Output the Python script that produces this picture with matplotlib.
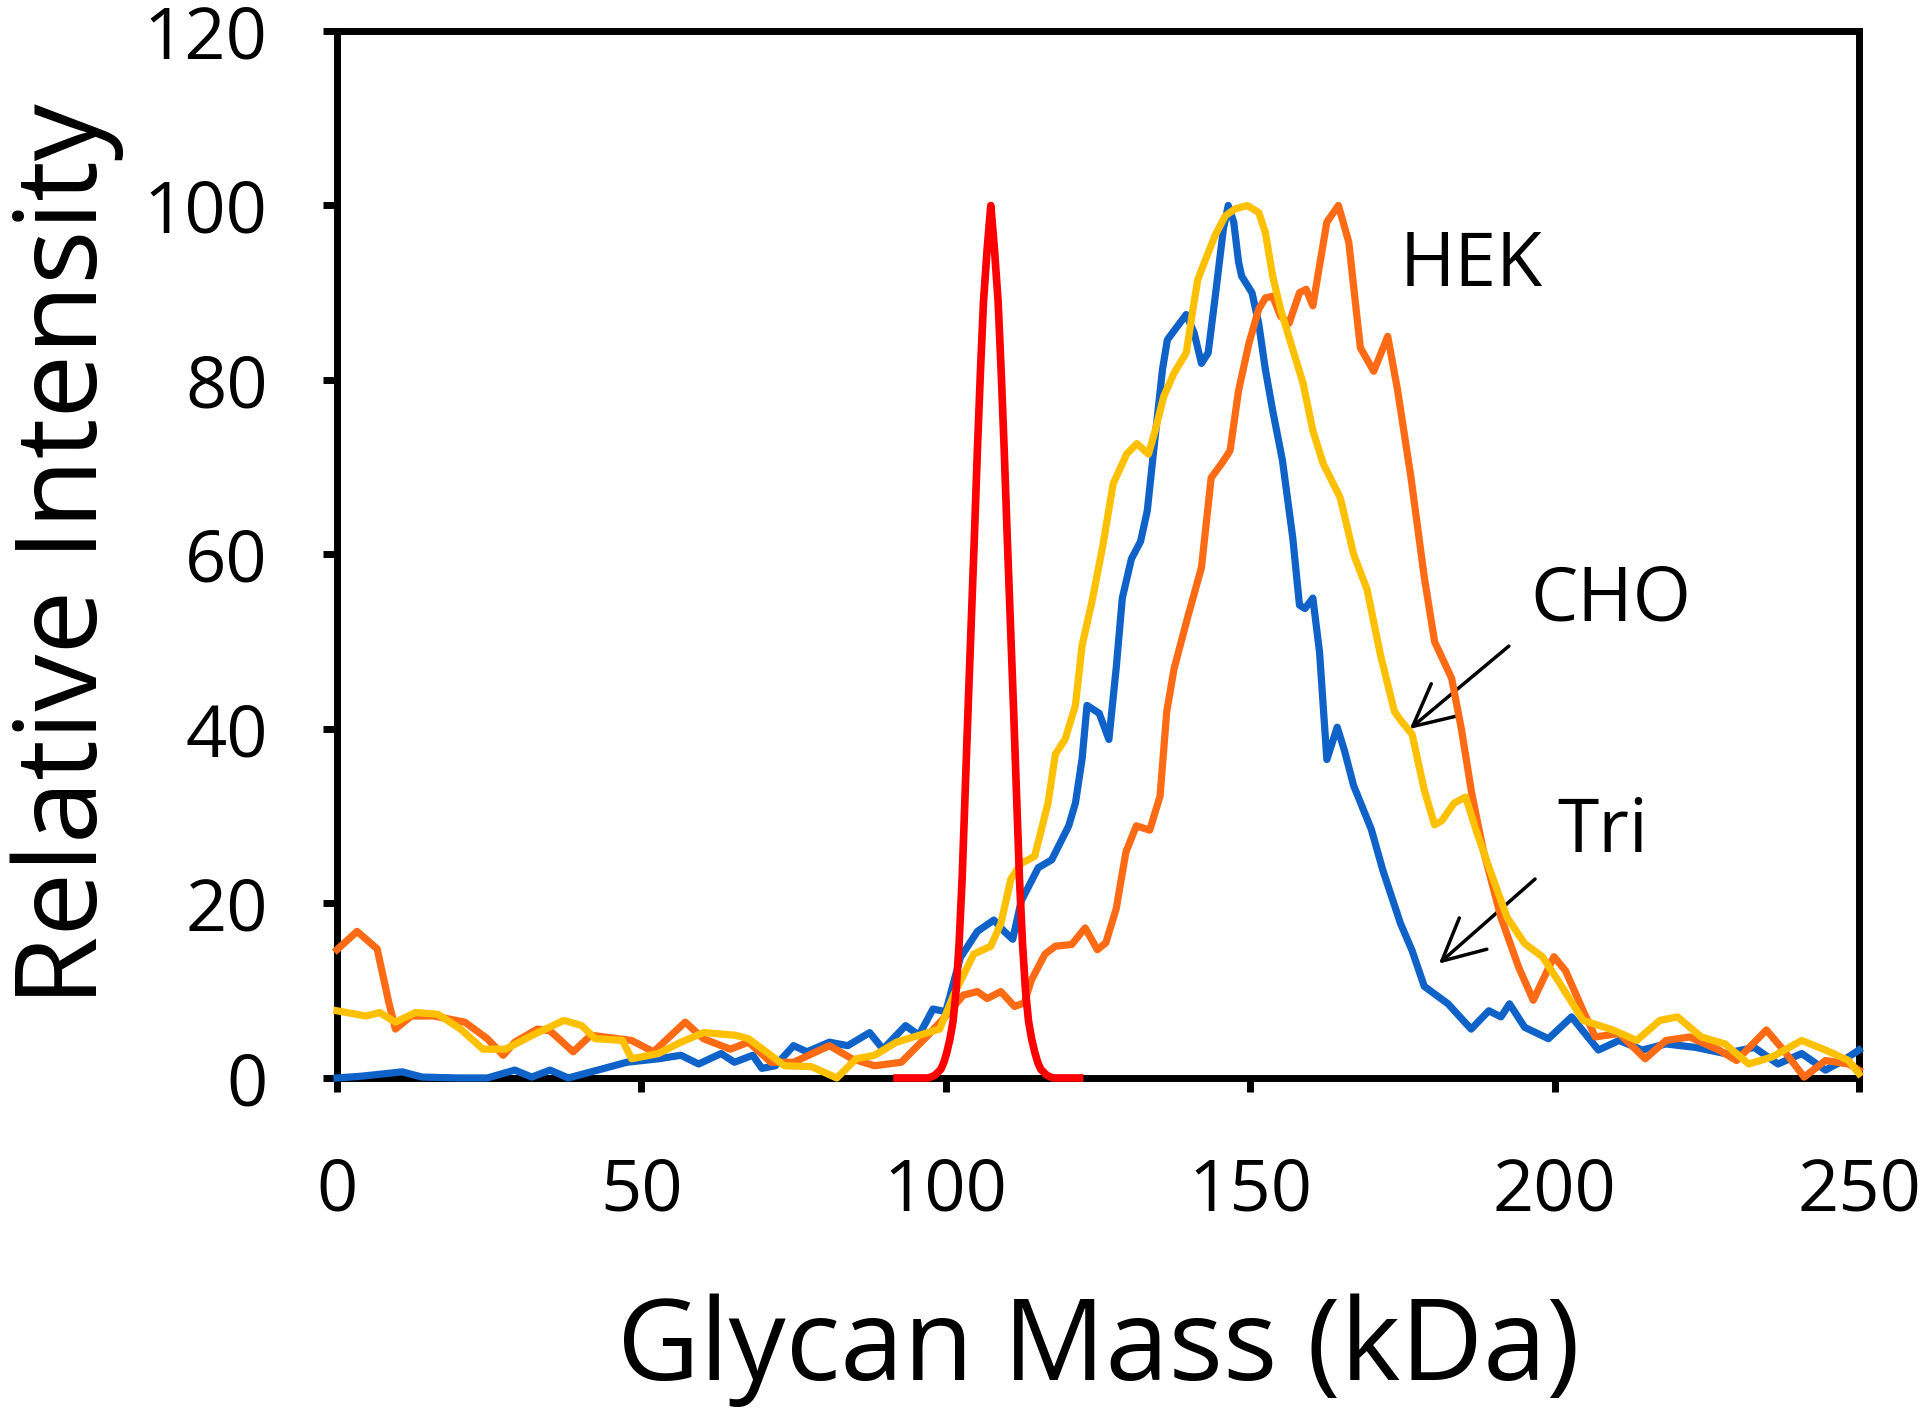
import matplotlib
matplotlib.use("Agg")
import matplotlib.pyplot as plt

# Tri (blue)
tri_x = [0, 4, 10.7, 14, 20, 24.7, 29.2, 32, 35, 38, 43.9, 47.6, 52.8, 56.5, 59.4, 63.1, 65.3, 68.3,
         69.8, 72, 75, 77.2, 80.9, 83.9, 87.5, 89.7, 93.4, 95.6, 97.9, 100, 102.4, 105.2, 107.9, 109.6,
         111, 112.4, 115.2, 117.4, 120.2, 121.3, 122.4, 123.2, 125.2, 126.8, 128, 129, 130.5, 132, 133.1,
         134.4, 135.6, 136.4, 138.1, 139.5, 140.8, 142, 143.1, 144.2, 145.6, 146.4, 147.3, 148.1, 148.6,
         150.3, 151.4, 152.5, 153.7, 155.3, 157, 158.1, 159, 160.3, 161.4, 162.6, 164.3, 165.5, 167,
         169.9, 171.8, 174.7, 176.6, 178.6, 182.5, 186.3, 189.2, 191.2, 192.6, 195.1, 199, 202.8, 207.2,
         210.6, 214.4, 218.3, 223.2, 228, 232.8, 236.7, 240.6, 244.5, 247.4, 250]
tri_y = [0, 0.2, 0.7, 0.1, 0, 0, 0.9, 0.1, 0.9, 0, 1.1, 1.8, 2.2, 2.6, 1.6, 2.8, 1.8, 2.6,
         1.1, 1.4, 3.7, 3.0, 4.1, 3.7, 5.2, 3.3, 6.0, 4.9, 7.9, 7.6, 13.8, 16.8, 18.1, 16.8,
         15.9, 20.3, 24.1, 25.0, 28.9, 31.5, 36.6, 42.7, 41.8, 38.8, 47, 55, 59.5, 61.5, 65,
         73.5, 81.2, 84.6, 86.2, 87.5, 85.4, 81.9, 83.1, 89.2, 97.3, 100, 98.1, 93.5, 91.9,
         90, 86.5, 81.2, 76.5, 70.8, 61.9, 54.2, 53.8, 55, 48.8, 36.5, 40.2, 37.5, 33.5,
         28.5, 23.8, 17.7, 14.6, 10.5, 8.5, 5.6, 7.7, 7, 8.5, 5.8, 4.5, 7, 3.2,
         4.3, 3.2, 3.9, 3.5, 2.8, 3.5, 1.6, 2.8, 0.9, 2.0, 3.2]

# CHO (yellow)
cho_x = [0, 4.8, 7, 9.6, 12.9, 16.6, 20.3, 24, 27.7, 32.1, 37.3, 40.2, 42.4, 46.9, 48.4, 52.8, 56.5,
         60.2, 65.4, 67.6, 70.5, 73.5, 77.9, 82.1, 85.3, 88.3, 91.9, 97.1, 99, 101.3, 104.6, 107.4,
         109.05, 110.7, 112.4, 114.6, 116.8, 118, 119.6, 121.3, 122.4, 124.05, 125.8, 127.5, 129.7,
         131.4, 133.3, 134.4, 135.8, 137.5, 139.5, 140.6, 141.4, 142.5, 144.2, 145.9, 147.5, 149.5,
         151.4, 152.5, 153.7, 155, 157, 158.7, 160.3, 162, 164.8, 167, 169.2, 171.4, 173.7, 174.7,
         176.6, 178.6, 180.3, 181.5, 183.5, 185.4, 187.3, 189.2, 192.2, 195.1, 198, 200.9, 204.7,
         209.6, 213.5, 217.3, 220.2, 224.1, 228, 231.9, 235.7, 240.6, 244.5, 248.3, 250]
cho_y = [7.7, 7.1, 7.5, 6.4, 7.5, 7.3, 5.6, 3.3, 3.3, 4.9, 6.6, 6.0, 4.5, 4.3, 2.2, 2.8, 4.1,
         5.2, 4.9, 4.5, 3.0, 1.4, 1.3, 0, 2.2, 2.6, 4.1, 5.2, 5.6, 9.5, 14.2, 15.1,
         17.7, 22.8, 24.6, 25.4, 31.5, 37.1, 38.8, 42.7, 49.6, 54.7, 61, 68.1, 71.5,
         72.7, 71.5, 74.2, 78.1, 80.8, 83.1, 88.1, 91.5, 93.5, 96.5, 98.8, 99.6, 100,
         99.2, 96.9, 91.9, 88.1, 83.5, 79.6, 74.2, 70.4, 66.5, 60, 56, 48.5, 42, 41,
         39.4, 33, 29, 29.5, 31.5, 32.2, 28, 24.2, 18.4, 15.4, 13.9, 10.8, 6.6,
         5.5, 4.3, 6.6, 7.0, 4.7, 3.9, 1.6, 2.4, 4.3, 3.2, 2.0, 0.5]

# HEK (orange)
hek_x = [0, 3.3, 6.6, 8.5, 9.6, 12.2, 15.9, 21, 24.7, 27.3, 29.2, 32.9, 35, 38.8, 41.7, 48.4, 52,
         57.2, 60.2, 64.6, 67.6, 71.3, 75, 80.9, 84.6, 88.3, 92.7, 97.1, 100, 102.9, 105.2, 106.8,
         109.05, 111.3, 112.9, 114.05, 116.3, 118, 120.7, 122.9, 124.9, 126.3, 128, 129.6, 131.3,
         133.5, 135.2, 136.3, 137.5, 139.7, 142, 143.6, 145.3, 146.7, 148.1, 149.8, 151.4, 152.5,
         153.7, 155, 156.4, 158.1, 159.2, 160.3, 161.4, 162.6, 164.5, 166.2, 168.1, 170.3, 172.6,
         174.2, 176.4, 178.6, 180.3, 183.1, 184.7, 186.4, 188.3, 191.2, 194.1, 196.5, 199.9, 201.8,
         204.7, 206.7, 210.6, 214.9, 218.3, 222.2, 227, 229.9, 234.8, 237.6, 241, 244.5, 248.3, 250]
hek_y = [14.7, 16.8, 14.8, 8.7, 5.6, 7.1, 7.1, 6.4, 4.5, 2.6, 4.1, 5.6, 5.4, 3.0, 4.9, 4.3, 3.0,
         6.4, 4.5, 3.3, 4.1, 1.8, 1.8, 3.7, 2.2, 1.4, 1.8, 4.9, 7.1, 9.5, 9.9, 9.1,
         9.9, 8.2, 8.6, 11.2, 14.2, 15.1, 15.3, 17.2, 14.7, 15.5, 19.4, 25.9, 28.9,
         28.4, 32.3, 42, 46.9, 52.7, 58.5, 68.8, 70.4, 71.9, 78.8, 84.2, 88.1, 89.4,
         89.6, 87.3, 86.5, 90, 90.4, 88.5, 93.1, 98.1, 100, 95.8, 83.7, 81, 85,
         78.9, 68.9, 57.4, 50, 45.8, 40, 32.6, 26.1, 18.4, 12.7, 8.9, 13.9, 12.3,
         7.7, 4.7, 5.1, 2.2, 4.3, 4.7, 3.2, 2.0, 5.5, 3.2, 0.1, 2.0, 1.6, 0.9]

# standard (red)
std_x = [92, 97.2, 98.2, 99.2, 99.7, 100.2, 100.7, 101.2, 101.7, 102.2, 102.7, 103.2, 103.7, 104.2,
         104.7, 105.2, 105.7, 106.2, 106.8, 107.4, 108.0, 108.6, 109.1, 109.6, 110.1, 110.6, 111.1,
         111.6, 112.1, 112.6, 113.1, 113.6, 114.1, 114.6, 115.1, 115.6, 116.6, 117.6, 122]
std_y = [0, 0, 0.3, 1.0, 1.8, 3.0, 4.5, 6.5, 10, 15.5, 23, 33, 43, 52.5,
         62, 72, 81, 89, 95, 100, 95, 89, 81, 72, 62, 52.5, 43,
         33, 23, 15.5, 10, 6.5, 4.5, 3.0, 1.8, 1.0, 0.3, 0, 0]

x_ticks = [0, 50, 100, 150, 200, 250]
y_ticks = [0, 20, 40, 60, 80, 100, 120]

plt.rcParams['font.family'] = ['Open Sans', 'DejaVu Sans']

fig = plt.figure(figsize=(19.2, 14.08), dpi=100)
ax = fig.add_axes([0.1755, 0.2344, 0.7927, 0.7436])

lw = 5.2
ax.plot(tri_x, tri_y, color='#0F62C8', lw=lw, zorder=3, clip_on=False, solid_joinstyle='round')
ax.plot(hek_x, hek_y, color='#FF6A14', lw=lw, zorder=4, clip_on=False, solid_joinstyle='round')
ax.plot(cho_x, cho_y, color='#FFC000', lw=lw, zorder=5, clip_on=False, solid_joinstyle='round')
ax.plot(std_x, std_y, color='#FF0000', lw=5.5, zorder=6, clip_on=False, solid_joinstyle='round')

ax.set_xlim(0, 250)
ax.set_ylim(0, 120)
ax.set_xticks(x_ticks)
ax.set_yticks(y_ticks)
ax.tick_params(direction='out', length=10, width=5, labelsize=52)
ax.tick_params(axis='x', pad=46)
ax.tick_params(axis='y', pad=40)

for sp in ax.spines.values():
    sp.set_linewidth(5)
    sp.set_color('black')

ax.set_xlabel('Glycan Mass (kDa)', fontsize=82, labelpad=48)
ax.set_ylabel('Relative Intensity', fontsize=82, labelpad=14)

ax.text(174.5, 93, 'HEK', fontsize=54, va='center', ha='left')
ax.text(196, 54.7, 'CHO', fontsize=54, va='center', ha='left')
ax.text(200.5, 28.1, 'Tri', fontsize=54, va='center', ha='left')

arrow = dict(arrowstyle='->, head_length=0.6, head_width=0.3', color='black', lw=2.5,
             mutation_scale=50, shrinkA=0, shrinkB=0)
ax.annotate('', xy=(176.2, 40), xytext=(192.5, 49.5), arrowprops=arrow)
ax.annotate('', xy=(181, 13.1), xytext=(196.8, 22.8), arrowprops=arrow)

fig.savefig('out.png', dpi=100)
